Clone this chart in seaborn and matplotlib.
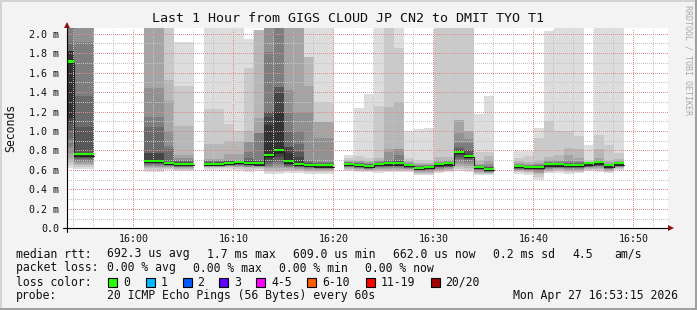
import numpy as np
import matplotlib
matplotlib.use("Agg")
import matplotlib.pyplot as plt
from matplotlib.patches import Rectangle
from matplotlib.lines import Line2D
import seaborn as sns

# ---------------- data (values in milliseconds) ----------------
# start of each 1-minute step, minutes relative to 16:00
minute_start = [-6.9, -5.9, -4.9, 1.1, 2.1, 3.1, 4.1, 5.1, 7.1, 8.1, 9.1, 10.1,
                11.1, 12.1, 13.1, 14.1, 15.1, 16.1, 17.1, 18.1, 19.1, 21.1, 22.1,
                23.1, 24.1, 25.1, 26.1, 27.1, 28.1, 29.1, 30.1, 31.1, 32.1, 33.1,
                34.1, 35.1, 38.1, 39.1, 40.1, 41.1, 42.1, 43.1, 44.1, 45.1, 46.1,
                47.1, 48.1]

median_ms = [1.70, 0.745, 0.745, 0.68, 0.68, 0.661, 0.651, 0.651, 0.651, 0.651,
             0.661, 0.668, 0.658, 0.655, 0.743, 0.788, 0.675, 0.65, 0.64, 0.632,
             0.632, 0.65, 0.64, 0.627, 0.65, 0.655, 0.655, 0.637, 0.61, 0.62,
             0.648, 0.655, 0.773, 0.73, 0.62, 0.596, 0.627, 0.62, 0.62, 0.645,
             0.645, 0.64, 0.64, 0.655, 0.665, 0.635, 0.655]

# 20 sorted ping times per step (values above the chart top are off-scale)
pings_ms = [
    [0.62, 0.65, 0.68, 0.72, 0.77, 0.84, 0.92, 1.00, 1.08, 1.13, 1.82, 1.82, 1.82, 1.92, 2.5, 2.5, 2.5, 2.5, 2.5, 2.5],
    [0.61, 0.63, 0.65, 0.665, 0.68, 0.695, 0.71, 0.72, 0.73, 0.74, 0.76, 0.77, 1.04, 1.36, 1.92, 2.5, 2.5, 2.5, 2.5, 2.5],
    [0.61, 0.63, 0.65, 0.665, 0.68, 0.695, 0.71, 0.72, 0.73, 0.74, 0.76, 0.77, 1.04, 1.36, 1.92, 2.5, 2.5, 2.5, 2.5, 2.5],
    [0.58, 0.60, 0.62, 0.635, 0.645, 0.655, 0.665, 0.67, 0.675, 0.68, 0.70, 0.77, 0.77, 1.04, 1.14, 1.44, 2.5, 2.5, 2.5, 2.5],
    [0.58, 0.60, 0.62, 0.635, 0.645, 0.655, 0.665, 0.67, 0.675, 0.68, 0.70, 0.77, 0.77, 1.04, 1.14, 1.44, 2.5, 2.5, 2.5, 2.5],
    [0.60, 0.61, 0.62, 0.63, 0.64, 0.645, 0.65, 0.655, 0.658, 0.66, 0.675, 0.68, 0.68, 0.81, 0.846, 1.00, 1.305, 1.52, 2.5, 2.5],
    [0.59, 0.60, 0.61, 0.62, 0.63, 0.635, 0.64, 0.645, 0.648, 0.65, 0.665, 0.67, 0.68, 0.69, 0.70, 0.72, 0.757, 1.05, 1.46, 1.91],
    [0.59, 0.60, 0.61, 0.62, 0.63, 0.635, 0.64, 0.645, 0.648, 0.65, 0.665, 0.67, 0.68, 0.69, 0.70, 0.72, 0.757, 1.05, 1.46, 1.91],
    [0.60, 0.615, 0.625, 0.635, 0.64, 0.645, 0.648, 0.65, 0.652, 0.655, 0.67, 0.675, 0.68, 0.685, 0.69, 0.70, 0.716, 0.87, 1.23, 2.5],
    [0.60, 0.615, 0.625, 0.635, 0.64, 0.645, 0.648, 0.65, 0.652, 0.655, 0.67, 0.675, 0.68, 0.685, 0.69, 0.70, 0.716, 0.87, 1.23, 2.5],
    [0.60, 0.615, 0.63, 0.64, 0.645, 0.65, 0.655, 0.658, 0.66, 0.662, 0.683, 0.685, 0.688, 0.69, 0.695, 0.70, 0.767, 0.90, 1.07, 2.5],
    [0.59, 0.61, 0.625, 0.635, 0.645, 0.65, 0.655, 0.66, 0.665, 0.668, 0.68, 0.683, 0.685, 0.69, 0.695, 0.70, 0.76, 0.90, 1.00, 2.5],
    [0.58, 0.60, 0.615, 0.625, 0.635, 0.645, 0.65, 0.653, 0.656, 0.658, 0.68, 0.69, 0.70, 0.72, 0.784, 0.887, 0.887, 1.00, 1.65, 1.95],
    [0.59, 0.605, 0.62, 0.63, 0.64, 0.645, 0.648, 0.65, 0.652, 0.655, 0.672, 0.68, 0.69, 0.70, 0.98, 0.98, 1.13, 2.04, 2.04, 2.04],
    [0.56, 0.58, 0.60, 0.62, 0.63, 0.64, 0.66, 0.68, 0.70, 0.72, 1.06, 1.14, 1.20, 1.20, 1.81, 2.5, 2.5, 2.5, 2.5, 2.5],
    [0.56, 0.58, 0.60, 0.62, 0.64, 0.66, 0.68, 0.70, 0.73, 0.76, 1.20, 1.39, 1.45, 1.45, 2.5, 2.5, 2.5, 2.5, 2.5, 2.5],
    [0.57, 0.585, 0.60, 0.615, 0.625, 0.635, 0.645, 0.655, 0.665, 0.672, 0.77, 0.84, 0.84, 0.99, 1.19, 1.42, 2.5, 2.5, 2.5, 2.5],
    [0.57, 0.585, 0.60, 0.61, 0.62, 0.63, 0.635, 0.64, 0.645, 0.648, 0.67, 0.73, 0.78, 0.87, 1.00, 1.20, 2.5, 2.5, 2.5, 2.5],
    [0.56, 0.575, 0.59, 0.60, 0.61, 0.62, 0.625, 0.63, 0.635, 0.638, 0.65, 0.66, 0.67, 0.68, 0.70, 1.20, 1.46, 1.76, 1.76, 2.5],
    [0.56, 0.575, 0.59, 0.60, 0.61, 0.615, 0.62, 0.625, 0.628, 0.63, 0.645, 0.65, 0.66, 0.67, 0.68, 0.93, 1.09, 1.09, 1.30, 2.5],
    [0.56, 0.575, 0.59, 0.60, 0.61, 0.615, 0.62, 0.625, 0.628, 0.63, 0.645, 0.65, 0.66, 0.67, 0.68, 0.93, 1.09, 1.09, 1.30, 2.5],
    [0.59, 0.60, 0.61, 0.62, 0.63, 0.635, 0.64, 0.643, 0.646, 0.648, 0.662, 0.665, 0.67, 0.675, 0.68, 0.685, 0.69, 0.70, 0.72, 0.75],
    [0.58, 0.59, 0.60, 0.61, 0.615, 0.62, 0.625, 0.63, 0.635, 0.638, 0.655, 0.66, 0.665, 0.67, 0.675, 0.68, 0.69, 0.70, 0.74, 1.24],
    [0.58, 0.59, 0.595, 0.60, 0.605, 0.61, 0.615, 0.62, 0.623, 0.625, 0.645, 0.65, 0.655, 0.66, 0.665, 0.67, 0.68, 0.69, 0.72, 1.38],
    [0.57, 0.585, 0.60, 0.61, 0.62, 0.63, 0.635, 0.64, 0.645, 0.648, 0.66, 0.665, 0.67, 0.675, 0.68, 0.69, 0.70, 0.72, 1.26, 2.5],
    [0.58, 0.59, 0.60, 0.61, 0.62, 0.63, 0.64, 0.645, 0.65, 0.652, 0.665, 0.67, 0.68, 0.69, 0.70, 0.78, 0.82, 1.25, 2.5, 2.5],
    [0.58, 0.59, 0.60, 0.61, 0.62, 0.63, 0.64, 0.645, 0.65, 0.652, 0.67, 0.68, 0.69, 0.70, 0.75, 0.82, 0.82, 1.30, 1.85, 2.5],
    [0.58, 0.59, 0.60, 0.605, 0.61, 0.615, 0.62, 0.625, 0.63, 0.635, 0.645, 0.65, 0.655, 0.66, 0.665, 0.67, 0.68, 0.69, 0.72, 1.00],
    [0.55, 0.56, 0.57, 0.58, 0.59, 0.595, 0.60, 0.603, 0.606, 0.608, 0.625, 0.63, 0.635, 0.64, 0.645, 0.65, 0.66, 0.67, 0.70, 1.02],
    [0.55, 0.56, 0.57, 0.58, 0.59, 0.60, 0.605, 0.61, 0.613, 0.616, 0.63, 0.635, 0.64, 0.645, 0.65, 0.655, 0.66, 0.67, 0.70, 1.03],
    [0.57, 0.58, 0.59, 0.60, 0.61, 0.62, 0.625, 0.63, 0.635, 0.64, 0.655, 0.66, 0.665, 0.67, 0.675, 0.68, 0.70, 0.73, 2.5, 2.5],
    [0.58, 0.59, 0.60, 0.61, 0.62, 0.63, 0.635, 0.64, 0.645, 0.65, 0.663, 0.667, 0.67, 0.675, 0.68, 0.69, 0.70, 0.73, 2.5, 2.5],
    [0.59, 0.61, 0.63, 0.65, 0.67, 0.69, 0.71, 0.73, 0.75, 0.765, 0.79, 0.80, 0.81, 0.84, 0.88, 0.98, 1.11, 1.11, 2.5, 2.5],
    [0.58, 0.60, 0.62, 0.64, 0.66, 0.68, 0.70, 0.71, 0.72, 0.725, 0.75, 0.76, 0.80, 0.80, 0.88, 0.92, 1.00, 1.00, 2.5, 2.5],
    [0.55, 0.56, 0.57, 0.58, 0.59, 0.60, 0.605, 0.61, 0.613, 0.616, 0.63, 0.635, 0.64, 0.645, 0.65, 0.655, 0.66, 0.70, 0.78, 1.18],
    [0.55, 0.56, 0.565, 0.57, 0.575, 0.58, 0.585, 0.59, 0.592, 0.594, 0.61, 0.615, 0.625, 0.635, 0.645, 0.66, 0.70, 0.74, 0.78, 1.36],
    [0.56, 0.575, 0.585, 0.595, 0.60, 0.605, 0.61, 0.615, 0.62, 0.623, 0.632, 0.635, 0.64, 0.645, 0.65, 0.66, 0.67, 0.69, 0.72, 0.795],
    [0.55, 0.565, 0.575, 0.585, 0.595, 0.60, 0.605, 0.61, 0.613, 0.616, 0.63, 0.635, 0.64, 0.645, 0.65, 0.655, 0.665, 0.68, 0.74, 0.795],
    [0.50, 0.53, 0.555, 0.57, 0.58, 0.59, 0.60, 0.61, 0.613, 0.616, 0.632, 0.64, 0.645, 0.65, 0.655, 0.66, 0.67, 0.70, 0.93, 1.03],
    [0.57, 0.58, 0.59, 0.60, 0.61, 0.62, 0.63, 0.635, 0.638, 0.64, 0.66, 0.665, 0.67, 0.675, 0.68, 0.69, 0.70, 0.73, 1.10, 2.03],
    [0.57, 0.585, 0.595, 0.605, 0.615, 0.62, 0.63, 0.635, 0.638, 0.64, 0.66, 0.665, 0.67, 0.675, 0.68, 0.69, 0.70, 0.75, 1.00, 2.5],
    [0.56, 0.575, 0.59, 0.60, 0.61, 0.615, 0.62, 0.625, 0.63, 0.635, 0.648, 0.655, 0.66, 0.67, 0.68, 0.70, 0.75, 0.83, 1.00, 2.5],
    [0.57, 0.58, 0.59, 0.60, 0.61, 0.615, 0.62, 0.625, 0.63, 0.635, 0.648, 0.655, 0.66, 0.67, 0.68, 0.69, 0.72, 0.81, 0.95, 2.5],
    [0.59, 0.60, 0.61, 0.62, 0.625, 0.63, 0.635, 0.64, 0.645, 0.65, 0.657, 0.66, 0.662, 0.665, 0.67, 0.675, 0.68, 0.685, 0.70, 0.855],
    [0.58, 0.595, 0.61, 0.62, 0.63, 0.64, 0.645, 0.65, 0.655, 0.66, 0.67, 0.675, 0.68, 0.685, 0.69, 0.70, 0.72, 0.81, 0.96, 2.5],
    [0.57, 0.58, 0.59, 0.60, 0.605, 0.61, 0.615, 0.62, 0.625, 0.63, 0.64, 0.645, 0.65, 0.655, 0.66, 0.665, 0.68, 0.70, 0.855, 2.5],
    [0.60, 0.61, 0.62, 0.63, 0.635, 0.64, 0.645, 0.648, 0.65, 0.652, 0.66, 0.665, 0.67, 0.675, 0.68, 0.685, 0.70, 0.71, 0.77, 2.5],
]

time_ticks = [0, 10, 20, 30, 40, 50]
time_labels = ["16:00", "16:10", "16:20", "16:30", "16:40", "16:50"]
rtt_ticks = [0.0, 0.2, 0.4, 0.6, 0.8, 1.0, 1.2, 1.4, 1.6, 1.8, 2.0]

title = "Last 1 Hour from GIGS CLOUD JP CN2 to DMIT TYO T1"
loss_labels = ["0", "1", "2", "3", "4-5", "6-10", "11-19", "20/20"]
loss_colors = ["#26ff00", "#00b8ff", "#0059ff", "#5e00ff", "#ff00ff", "#ff5e00", "#ff0000", "#a10000"]

# ---------------- style ----------------
sns.set_style("white")
MONO = "DejaVu Sans Mono"
plt.rcParams["font.family"] = [MONO, "DejaVu Sans"]

W, H = 697, 310
fig = plt.figure(figsize=(W / 100, H / 100), dpi=100, facecolor="#f3f3f3")

def fx(px):
    return px / W

def fy(py):
    return 1 - py / H

ax_left, ax_right, ax_top, ax_bottom = 67, 668, 27.7, 228.3
ax = fig.add_axes([fx(ax_left), fy(ax_bottom), (ax_right - ax_left) / W, (ax_bottom - ax_top) / H])
ax.set_facecolor("white")
ax.set_xlim(-6.63, 53.47)
ax.set_ylim(0, 2.062)
for s in ax.spines.values():
    s.set_visible(False)

P = np.array(pings_ms)
x = np.array(minute_start)
med = np.array(median_ms)

# smoke: 10 layers, outer pair lightest
n_half = P.shape[1] // 2
for i in range(n_half):
    g = (221 - 19 * i) / 255.0
    lo = P[:, i]
    hi = P[:, P.shape[1] - 1 - i]
    ax.bar(x, hi - lo, bottom=lo, width=1.0, align="edge", color=(g, g, g),
           linewidth=0, antialiased=False, zorder=1)

# grid (1-on / 1-off dotted, crisp)
ax.set_xticks(time_ticks)
ax.set_xticks(np.arange(-6, 53, 2), minor=True)
ax.set_yticks(rtt_ticks)
ax.set_yticks(np.arange(0.1, 2.05, 0.2), minor=True)
ax.grid(which="minor", color="#c4c4c4", linestyle=(0, (1, 1.2)), linewidth=0.72,
        antialiased=False, zorder=2)
ax.grid(which="major", color="#e08c8c", linestyle=(0, (1, 1.2)), linewidth=0.72,
        antialiased=False, zorder=2.1)
ax.set_axisbelow(False)

# median line: black step line with green (0 % loss) band on top
runs = []
start = 0
for k in range(1, len(x) + 1):
    if k == len(x) or abs(x[k] - x[k - 1] - 1.0) > 1e-6:
        runs.append((start, k))
        start = k
for a, b in runs:
    xs = np.append(x[a:b], x[b - 1] + 1.0)
    ys = np.append(med[a:b], med[b - 1])
    ax.plot(xs, ys, drawstyle="steps-post", color="#202020", linewidth=0.8, zorder=3)
ax.bar(x, 0.021, bottom=med + 0.004, width=1.0, align="edge", color=loss_colors[0],
       linewidth=0, antialiased=False, zorder=4)

# ticks & labels
ax.set_xticklabels(time_labels, fontsize=7.2, family=MONO)
ax.set_yticklabels(["0.0" if v == 0 else f"{v:.1f} m" for v in rtt_ticks], fontsize=7.2, family=MONO)
ax.tick_params(axis="both", which="major", direction="out", length=2.5, width=0.7,
               color="#e08c8c", labelcolor="#111111")
ax.tick_params(axis="both", which="minor", direction="out", length=2.5, width=0.7, color="#c4c4c4")
ax.tick_params(axis="y", which="major", pad=3.3)
ax.tick_params(axis="x", which="major", pad=1.6)

# axes lines with arrows
ax.plot([-4 / 601, 1.0], [0, 0], transform=ax.transAxes, color="#000000", lw=0.8, clip_on=False, zorder=6)
ax.plot([0, 0], [-4 / 200.6, 1.0], transform=ax.transAxes, color="#000000", lw=0.8, clip_on=False, zorder=6)
ax.plot([1.0 + 3 / 601], [0], marker=">", ms=4.2, color="#8f1010", transform=ax.transAxes,
        clip_on=False, zorder=7, markeredgewidth=0)
ax.plot([0], [1.0 + 3 / 200.6], marker="^", ms=4.2, color="#8f1010", transform=ax.transAxes,
        clip_on=False, zorder=7, markeredgewidth=0)

# texts
fig.text(0.5, fy(19), title, ha="center", va="center", fontsize=9.6, family=MONO, color="#111111")
fig.text(fx(11), fy(127.5), "Seconds", rotation=90, ha="center", va="center", fontsize=8.3,
         family=MONO, color="#111111")
fig.text(fx(688), fy(60), "RRDTOOL / TOBI OETIKER", rotation=270, ha="center", va="center",
         fontsize=6.0, family=MONO, color="#a8a8a8")

LFS = 8.3
row_y = [254, 268, 282, 296]
legend_rows = [
    [(16, "median rtt:"), (107, "692.3 us avg"), (207, "1.7 ms max"), (293, "609.0 us min"),
     (393, "662.0 us now"), (493, "0.2 ms sd"), (572, "4.5"), (614, "am/s")],
    [(16, "packet loss:"), (107, "0.00 % avg"), (193, "0.00 % max"), (279, "0.00 % min"),
     (365, "0.00 % now")],
    [(16, "loss color:")],
    [(16, "probe:"), (107, "20 ICMP Echo Pings (56 Bytes) every 60s"), (513, "Mon Apr 27 16:53:15 2026")],
]
for yy, row in zip(row_y, legend_rows):
    for xx, t in row:
        fig.text(fx(xx), fy(yy), t, ha="left", va="center", fontsize=LFS, family=MONO, color="#111111")

box_x = [108, 146, 183, 219, 256, 307, 366, 431]
lab_x = [123, 161, 197, 234, 271, 322, 381, 445]
for bx, lx, c, t in zip(box_x, lab_x, loss_colors, loss_labels):
    fig.patches.append(Rectangle((fx(bx), fy(286.5)), 8.5 / W, 9 / H, transform=fig.transFigure,
                                 facecolor=c, edgecolor="black", linewidth=0.8))
    fig.text(fx(lx), fy(row_y[2]), t, ha="left", va="center", fontsize=LFS, family=MONO, color="#111111")

# outer frame (light top/left, dark bottom/right)
fig.lines.append(Line2D([fx(0.5), fx(0.5)], [0, 1], transform=fig.transFigure, color="#d4d4d4", lw=1.4))
fig.lines.append(Line2D([0, 1], [fy(0.5), fy(0.5)], transform=fig.transFigure, color="#d4d4d4", lw=1.4))
fig.lines.append(Line2D([fx(W - 1), fx(W - 1)], [0, 1], transform=fig.transFigure, color="#a0a0a0", lw=1.5))
fig.lines.append(Line2D([0, 1], [fy(H - 1), fy(H - 1)], transform=fig.transFigure, color="#a0a0a0", lw=1.5))

fig.savefig("out.png", dpi=100, facecolor=fig.get_facecolor())
